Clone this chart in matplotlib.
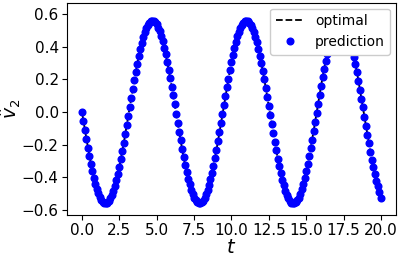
import numpy as np
import matplotlib
matplotlib.use("Agg")
import matplotlib.pyplot as plt

t = [round(0.1 * k, 1) for k in range(201)]

v2 = [
    0.000, -0.056, -0.111, -0.165, -0.218, -0.268, -0.316, -0.361, -0.402, -0.439,
    -0.471, -0.499, -0.522, -0.540, -0.552, -0.559, -0.560, -0.555, -0.545, -0.530,
    -0.509, -0.483, -0.453, -0.418, -0.378, -0.335, -0.289, -0.239, -0.188, -0.134,
    -0.079, -0.023, 0.033, 0.088, 0.143, 0.196, 0.248, 0.297, 0.343, 0.385,
    0.424, 0.458, 0.488, 0.513, 0.533, 0.547, 0.556, 0.560, 0.558, 0.550,
    0.537, 0.518, 0.495, 0.466, 0.433, 0.395, 0.354, 0.308, 0.260, 0.209,
    0.156, 0.102, 0.047, -0.009, -0.065, -0.120, -0.174, -0.227, -0.277, -0.324,
    -0.368, -0.408, -0.444, -0.476, -0.503, -0.525, -0.542, -0.553, -0.559, -0.559,
    -0.554, -0.543, -0.527, -0.505, -0.479, -0.447, -0.411, -0.371, -0.328, -0.281,
    -0.231, -0.179, -0.125, -0.070, -0.014, 0.042, 0.098, 0.152, 0.205, 0.256,
    0.305, 0.350, 0.392, 0.430, 0.464, 0.493, 0.517, 0.536, 0.549, 0.557,
    0.560, 0.557, 0.548, 0.534, 0.515, 0.490, 0.461, 0.427, 0.388, 0.346,
    0.300, 0.252, 0.201, 0.147, 0.093, 0.037, -0.019, -0.075, -0.130, -0.183,
    -0.235, -0.285, -0.332, -0.375, -0.415, -0.450, -0.481, -0.507, -0.528, -0.544,
    -0.555, -0.560, -0.559, -0.553, -0.541, -0.524, -0.501, -0.474, -0.442, -0.405,
    -0.364, -0.320, -0.272, -0.222, -0.170, -0.116, -0.060, -0.004, 0.051, 0.107,
    0.161, 0.214, 0.265, 0.312, 0.357, 0.399, 0.436, 0.469, 0.497, 0.520,
    0.538, 0.551, 0.558, 0.560, 0.556, 0.546, 0.531, 0.511, 0.486, 0.455,
    0.421, 0.382, 0.339, 0.293, 0.243, 0.192, 0.138, 0.083, 0.028, -0.028,
    -0.084, -0.139, -0.192, -0.244, -0.293, -0.339, -0.382, -0.421, -0.456, -0.490,
    -0.530,
]

fig = plt.figure(figsize=(3.99, 2.59), dpi=100)
ax = fig.add_axes([0.168, 0.170, 0.824, 0.818])

ax.plot(t, v2, "k--", lw=1.3, label="optimal", zorder=2)
ax.plot(t, v2, "o", color="blue", ms=4.8, lw=0, label="prediction", zorder=3)

ax.set_xlim(-1, 21)
ax.set_ylim(-0.631, 0.668)
ax.set_xticks([0, 2.5, 5, 7.5, 10, 12.5, 15, 17.5, 20])
ax.set_yticks([-0.6, -0.4, -0.2, 0.0, 0.2, 0.4, 0.6])
ax.tick_params(labelsize=11, pad=2.5)
ax.set_xlabel(r"$t$", fontsize=14, labelpad=0)
ax.set_ylabel(r"$\hat{v}_2$", fontsize=13.5)
ax.yaxis.set_label_coords(-0.133, 0.5)

leg = ax.legend(loc="upper right", fontsize=10, framealpha=1,
                borderaxespad=0.4, handlelength=2.0)

fig.savefig("out.png", dpi=100)
